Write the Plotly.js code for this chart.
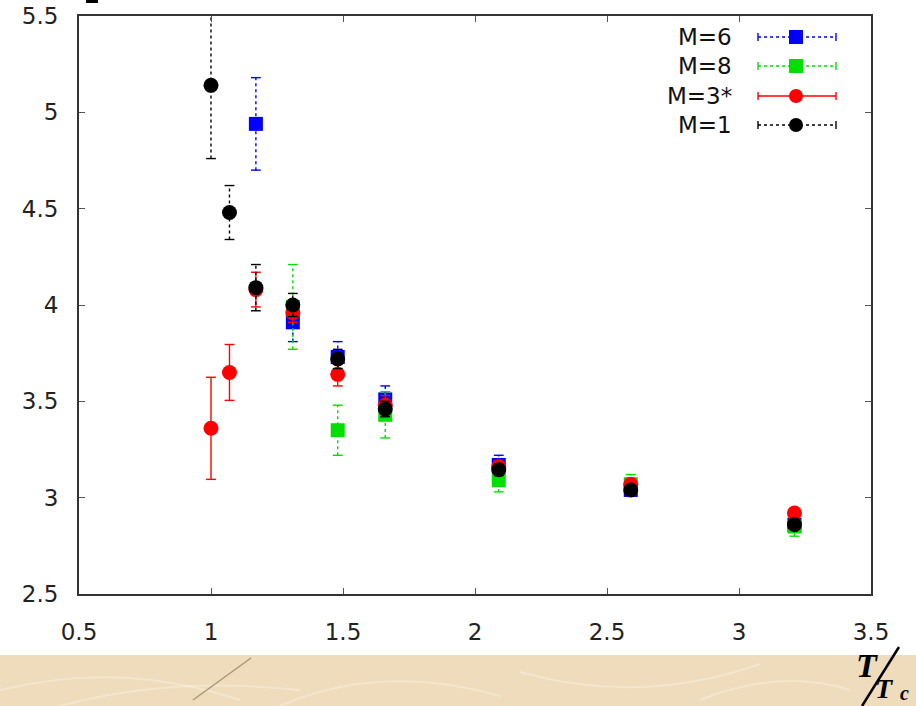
<!DOCTYPE html>
<html><head><meta charset="utf-8">
<script src="https://cdn.plot.ly/plotly-3.0.1.min.js"></script>
<style>html,body{margin:0;padding:0;background:#fff;}#chart{width:916px;height:706px;}</style>
</head><body><div id="chart"></div>
<script>
// ---- data ----
const seriesNames = ["M=6", "M=8", "M=3*", "M=1"];
const xM6 = [1.17, 1.31, 1.48, 1.66, 2.09, 2.59, 3.21];
const yM6 = [4.94, 3.91, 3.73, 3.51, 3.17, 3.04, 2.86];
const eM6 = [0.24, 0.10, 0.08, 0.07, 0.05, 0.02, 0.02];

const xM8 = [1.31, 1.48, 1.66, 2.09, 2.59, 3.21];
const yM8 = [3.99, 3.35, 3.43, 3.09, 3.07, 2.85];
const eM8 = [0.22, 0.13, 0.12, 0.06, 0.05, 0.05];

const xM3 = [1.0, 1.07, 1.17, 1.31, 1.48, 1.66, 2.09, 2.59, 3.21];
const yM3 = [3.36, 3.65, 4.08, 3.96, 3.64, 3.48, 3.16, 3.07, 2.92];
const eM3 = [0.265, 0.145, 0.09, 0.05, 0.06, 0.05, 0.03, 0.02, 0.02];

const xM1 = [1.0, 1.07, 1.17, 1.31, 1.48, 1.66, 2.09, 2.59, 3.21];
const yM1 = [5.14, 4.48, 4.09, 4.00, 3.72, 3.46, 3.145, 3.04, 2.86];
const eM1 = [0.38, 0.14, 0.12, 0.06, 0.05, 0.04, 0.03, 0.02, 0.02];

const xTickVals = [0.5, 1, 1.5, 2, 2.5, 3, 3.5];
const yTickVals = [2.5, 3, 3.5, 4, 4.5, 5, 5.5];

// ---- styling ----
const W = 916, H = 706;
const L = 79, R = 871, T = 16, B = 594;
const px = v => (v - L) / (R - L);
const py = v => (B - v) / (B - T);

const styles = [
  {color: "#0000ff", dash: "dot", symbol: "square", size: 14},
  {color: "#00e000", dash: "dot", symbol: "square", size: 14},
  {color: "#ff0000", dash: "solid", symbol: "circle", size: 15},
  {color: "#000000", dash: "dot", symbol: "circle", size: 15}
];
const data = [[xM6, yM6, eM6], [xM8, yM8, eM8], [xM3, yM3, eM3], [xM1, yM1, eM1]];

const traces = [];
data.forEach((d, k) => {
  const [xs, ys, es] = d; const s = styles[k];
  const lx = [], ly = [], cx = [], cy = [];
  for (let i = 0; i < xs.length; i++) {
    lx.push(xs[i], xs[i], null); ly.push(ys[i] - es[i], ys[i] + es[i], null);
    cx.push(xs[i], xs[i]); cy.push(ys[i] - es[i], ys[i] + es[i]);
  }
  traces.push({type: "scatter", mode: "lines", x: lx, y: ly, line: {color: s.color, width: 1.4, dash: s.dash}, hoverinfo: "skip", showlegend: false});
  traces.push({type: "scatter", mode: "markers", x: cx, y: cy, marker: {symbol: "line-ew", size: 7, color: s.color, line: {color: s.color, width: 1.4}}, hoverinfo: "skip", showlegend: false});
  traces.push({type: "scatter", mode: "markers", name: seriesNames[k], x: xs, y: ys, marker: {symbol: s.symbol, size: s.size, color: s.color, line: {width: 0}}, showlegend: false});
});

// ---- custom legend ----
const shapes = [];
const annotations = [];
const legRows = [37, 66, 96, 125];
legRows.forEach((ry, k) => {
  const s = styles[k];
  shapes.push({type: "line", xref: "paper", yref: "paper", x0: px(758), x1: px(836), y0: py(ry), y1: py(ry), line: {color: s.color, width: 1.4, dash: s.dash}});
  [758, 836].forEach(cxp => shapes.push({type: "line", xref: "paper", yref: "paper", x0: px(cxp), x1: px(cxp), y0: py(ry - 4), y1: py(ry + 4), line: {color: s.color, width: 1.4}}));
  const r = 7;
  shapes.push({type: s.symbol === "square" ? "rect" : "circle", xref: "paper", yref: "paper", x0: px(796 - r), x1: px(796 + r), y0: py(ry + r), y1: py(ry - r), fillcolor: s.color, line: {width: 0}});
  annotations.push({xref: "paper", yref: "paper", x: px(734), y: py(ry), xanchor: "right", yanchor: "middle", showarrow: false, text: seriesNames[k], font: {family: "DejaVu Sans, Arial, sans-serif", size: 23, color: "#111"}});
});

// ---- background strip (parchment-like) and T/Tc ----
shapes.unshift({type: "rect", xref: "paper", yref: "paper", layer: "below", x0: px(0), x1: px(W), y0: py(H), y1: py(655), fillcolor: "#eedcbc", line: {width: 0}});
const streaks = [
  [[0, 690], [120, 660], [240, 700]],
  [[280, 706], [380, 662], [500, 696]],
  [[520, 672], [640, 706], [760, 664]],
  [[60, 706], [170, 676], [300, 690]],
  [[700, 700], [780, 668], [850, 690]]
];
streaks.forEach(p => {
  const path = "M" + px(p[0][0]) + "," + py(p[0][1]) + " Q" + px(p[1][0]) + "," + py(p[1][1]) + " " + px(p[2][0]) + "," + py(p[2][1]);
  shapes.push({type: "path", xref: "paper", yref: "paper", layer: "below", path: path, line: {color: "rgba(255,250,240,0.35)", width: 2}});
});
shapes.push({type: "line", xref: "paper", yref: "paper", x0: px(251), y0: py(658), x1: px(193), y1: py(700), line: {color: "#a89878", width: 1.5}});
shapes.push({type: "line", xref: "paper", yref: "paper", x0: px(899), y0: py(647), x1: px(862), y1: py(706), line: {color: "#000", width: 2.5}});
shapes.push({type: "rect", xref: "paper", yref: "paper", x0: px(86), x1: px(98), y0: py(3), y1: py(0), fillcolor: "#000", line: {width: 0}});
annotations.push({xref: "paper", yref: "paper", x: px(867), y: py(665), xanchor: "center", yanchor: "middle", showarrow: false, text: "<b><i>T</i></b>", font: {family: "Liberation Serif, Times New Roman, serif", size: 34, color: "#000"}});
annotations.push({xref: "paper", yref: "paper", x: px(884), y: py(688), xanchor: "center", yanchor: "middle", showarrow: false, text: "<b><i>T</i></b>", font: {family: "Liberation Serif, Times New Roman, serif", size: 28, color: "#000"}});
annotations.push({xref: "paper", yref: "paper", x: px(904), y: py(693), xanchor: "center", yanchor: "middle", showarrow: false, text: "<b><i>c</i></b>", font: {family: "Liberation Serif, Times New Roman, serif", size: 20, color: "#000"}});

const axisCommon = {
  showgrid: false, zeroline: false, showline: true, linecolor: "#333", linewidth: 2,
  mirror: "allticks", ticks: "inside", ticklen: 6, tickwidth: 1, tickcolor: "#555",
  tickfont: {family: "DejaVu Sans, Arial, sans-serif", size: 23, color: "#222"}
};

const layout = {
  width: W, height: H,
  margin: {l: L, r: W - R, t: T, b: H - B, pad: 0},
  paper_bgcolor: "#ffffff", plot_bgcolor: "#ffffff",
  showlegend: false,
  xaxis: Object.assign({}, axisCommon, {range: [0.5, 3.5], tickvals: xTickVals, ticktext: xTickVals.map(String), ticklabelstandoff: 16}),
  yaxis: Object.assign({}, axisCommon, {range: [2.5, 5.5], tickvals: yTickVals, ticktext: yTickVals.map(String), ticklabelstandoff: 14}),
  shapes: shapes, annotations: annotations
};

Plotly.newPlot("chart", traces, layout, {displayModeBar: false, staticPlot: true});
</script></body></html>
